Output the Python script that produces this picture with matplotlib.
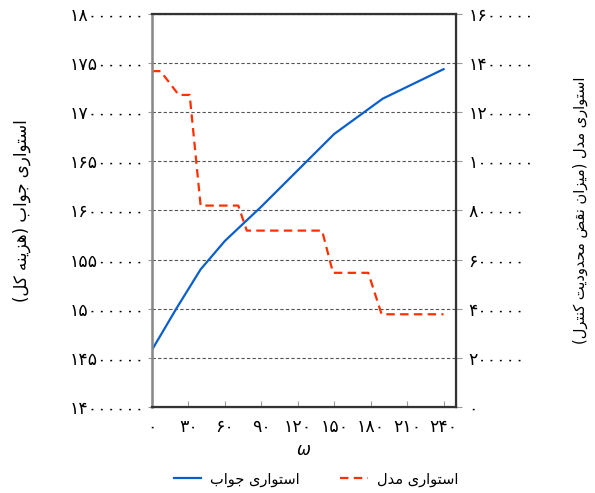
import matplotlib
matplotlib.use('Agg')
import matplotlib.pyplot as plt
from matplotlib.ticker import FuncFormatter, FixedLocator

matplotlib.rc('font', family='DejaVu Sans', size=11)

# data
omega_solution = [0, 20, 40, 60, 90, 120, 150, 190, 240]
solution_robustness = [14580000, 15000000, 15400000, 15690000, 16040000,
                       16410000, 16780000, 17140000, 17440000]
omega_model = [0, 7, 22, 31, 40, 71, 78, 140, 149, 178, 189, 240]
model_robustness = [1368000, 1368000, 1271000, 1271000, 820000, 820000,
                    718000, 718000, 546000, 546000, 377000, 377000]

x_ticks = list(range(0, 241, 30))
left_ticks = list(range(14000000, 18000001, 500000))
right_ticks = list(range(0, 1600001, 200000))

label_solution = "استواری جواب"
label_model = "استواری مدل"
ylabel_left = "استواری جواب (هزینه کل)"
ylabel_right = "استواری مدل (میزان نقض محدودیت کنترل)"

# matplotlib does no arabic shaping / bidi, so do it by hand
FORMS = {
    'ا': '\ufe8d\ufe8e', 'د': '\ufea9\ufeaa', 'ر': '\ufead\ufeae',
    'ز': '\ufeaf\ufeb0', 'و': '\ufeed\ufeee',
    'ب': '\ufe8f\ufe90\ufe91\ufe92', 'ت': '\ufe95\ufe96\ufe97\ufe98',
    'ج': '\ufe9d\ufe9e\ufe9f\ufea0', 'ح': '\ufea1\ufea2\ufea3\ufea4',
    'س': '\ufeb1\ufeb2\ufeb3\ufeb4', 'ض': '\ufebd\ufebe\ufebf\ufec0',
    'ق': '\ufed5\ufed6\ufed7\ufed8', 'ک': '\ufb8e\ufb8f\ufb90\ufb91',
    'ل': '\ufedd\ufede\ufedf\ufee0', 'م': '\ufee1\ufee2\ufee3\ufee4',
    'ن': '\ufee5\ufee6\ufee7\ufee8', 'ه': '\ufee9\ufeea\ufeeb\ufeec',
    'ی': '\ufbfc\ufbfd\ufbfe\ufbff',
}


def shape(text):
    out = []
    for i, ch in enumerate(text):
        f = FORMS.get(ch)
        if f is None:
            out.append({'(': ')', ')': '('}.get(ch, ch))
            continue
        prev = text[i - 1] if i > 0 else ''
        nxt = text[i + 1] if i + 1 < len(text) else ''
        jp = len(FORMS.get(prev, '')) == 4
        jn = len(f) == 4 and nxt in FORMS
        idx = 3 if (jp and jn) else 2 if jn else 1 if jp else 0
        out.append(f[idx])
    return ''.join(out[::-1])


FA_DIGITS = str.maketrans('0123456789', '۰۱۲۳۴۵۶۷۸۹')
fa_fmt = FuncFormatter(lambda v, p: str(int(round(v))).translate(FA_DIGITS))

fig = plt.figure(figsize=(5.95, 4.93), dpi=100)
ax = fig.add_axes([0.2555, 0.1749, 0.5104, 0.7963])
ax2 = ax.twinx()

l1, = ax.plot(omega_solution, solution_robustness, color='#0a5fcc', lw=1.6)
l2, = ax2.plot(omega_model, model_robustness, color='#ff3000', lw=1.6,
               dashes=(3.8, 2.4))

ax.set_xlim(0, 250)
ax.set_ylim(14000000, 18000000)
ax2.set_ylim(0, 1600000)
ax.xaxis.set_major_locator(FixedLocator(x_ticks))
ax.yaxis.set_major_locator(FixedLocator(left_ticks))
ax2.yaxis.set_major_locator(FixedLocator(right_ticks))
for a in (ax.xaxis, ax.yaxis, ax2.yaxis):
    a.set_major_formatter(fa_fmt)

ax.grid(axis='y', color='#555555', lw=0.8, linestyle=(0, (3, 2)))
ax.tick_params(axis='x', direction='in', length=4, color='#999999', pad=8,
               labelsize=12.5)
ax.tick_params(axis='y', direction='out', length=3, color='#999999', pad=2,
               labelsize=12.5)
ax2.tick_params(axis='y', direction='out', length=4, color='#999999', pad=5,
                labelsize=12.5)

for s in ['top', 'right', 'bottom']:
    ax2.spines[s].set_color('#333333')
    ax2.spines[s].set_linewidth(1.6)
ax2.spines['left'].set_color('#888888')
ax2.spines['left'].set_linewidth(1.8)

ax.set_xlabel('ω', fontstyle='italic', fontsize=12, labelpad=4)
ax.set_ylabel(shape(ylabel_left), fontsize=12)
ax2.set_ylabel(shape(ylabel_right), fontsize=10.5)
ax.yaxis.set_label_coords(-0.40, 0.5)
ax2.yaxis.set_label_coords(1.385, 0.5)

fig.legend([l1, l2], [shape(label_solution), shape(label_model)], ncol=2,
           loc='center', bbox_to_anchor=(0.531, 0.028), frameon=False,
           fontsize=10.5, handlelength=1.9, handletextpad=0.6,
           columnspacing=2.8)

fig.savefig('out.png', dpi=100)
